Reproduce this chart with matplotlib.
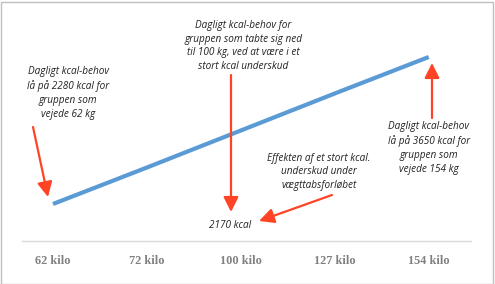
import matplotlib
matplotlib.use("Agg")
import matplotlib.pyplot as plt
from matplotlib.patches import Rectangle

# ------------------------------
# Data
# ------------------------------
categories = ["62 kilo", "72 kilo", "100 kilo", "127 kilo", "154 kilo"]
kcal = [2280, 2620, 2965, 3310, 3650]

W, H = 495, 284
BLUE = "#5B9BD5"
RED = "#FF4426"
TXT = "#222222"
ANN_FONT = ["Open Sans", "DejaVu Sans"]


def fx(px):
    return px / W


def fy(py):
    return 1 - py / H


fig = plt.figure(figsize=(W / 100, H / 100), dpi=100)
ax = fig.add_axes([fx(22), fy(241), fx(471) - fx(22), fy(10) - fy(241)])

x = list(range(len(categories)))
ax.plot(x, kcal, color=BLUE, lw=3.0, solid_capstyle="butt")

ax.set_xlim(-0.33, 4.45)
ax.set_ylim(1935, 4088)
ax.set_xticks(x)
ax.set_xticklabels(categories, family=["Liberation Serif"], fontweight="bold",
                   fontsize=8.8, color="#808080")
ax.tick_params(axis="x", length=0, pad=10)
ax.set_yticks([])
for s in ["top", "right", "left"]:
    ax.spines[s].set_visible(False)
ax.spines["bottom"].set_color("#D9D9D9")
ax.spines["bottom"].set_linewidth(1.0)

# ------------------------------
# Annotations (figure pixel positions)
# ------------------------------
notes = [
    ("Dagligt kcal-behov\nlå på 2280 kcal for\ngruppen som\nvejede 62 kg", 68, 93),
    ("Dagligt kcal-behov for\ngruppen som tabte sig ned\ntil 100 kg, ved at være i et\nstort kcal underskud", 243, 46),
    ("Dagligt kcal-behov\nlå på 3650 kcal for\ngruppen som\nvejede 154 kg", 429, 148),
    ("Effekten af et stort kcal.\nunderskud under\nvægttabsforløbet", 319, 172),
    ("2170 kcal", 230, 225),
]
for txt, px, py in notes:
    fig.text(fx(px), fy(py), txt, ha="center", va="center", fontsize=7.2,
             style="italic", family=ANN_FONT, color=TXT, linespacing=1.35)

arrows = [
    ((33, 127), (48, 197)),
    ((231, 75), (231, 212)),
    ((332, 195), (259, 221)),
    ((432, 118), (432, 63)),
]
for (x0, y0), (x1, y1) in arrows:
    fig.add_artist(plt.Annotation(
        "", xy=(fx(x1), fy(y1)), xytext=(fx(x0), fy(y0)),
        xycoords="figure fraction", textcoords="figure fraction",
        arrowprops=dict(arrowstyle="-|>,head_length=0.9,head_width=0.45",
                        color=RED, lw=1.6, shrinkA=0, shrinkB=0)))

fig.add_artist(Rectangle((0.5 / W, 0.5 / H), 1 - 2.5 / W, 1 - 2.5 / H,
                         transform=fig.transFigure, fill=False,
                         edgecolor="#BFBFBF", lw=1.0))

fig.savefig("out.png", dpi=100)
